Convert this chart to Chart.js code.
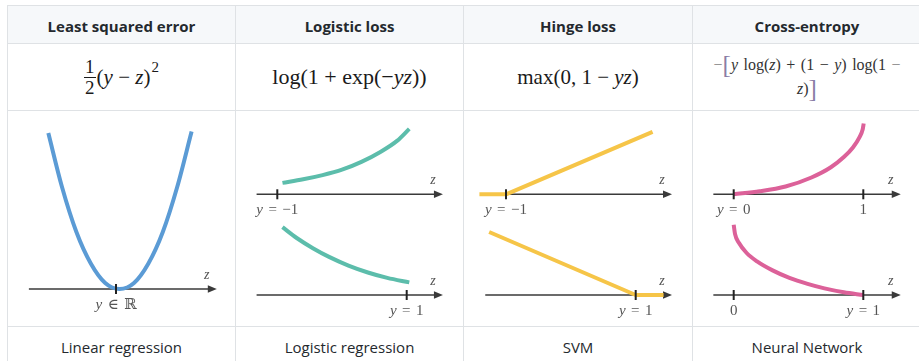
<!DOCTYPE html>
<html><head><meta charset="utf-8">
<script src="https://cdn.jsdelivr.net/npm/chart.js@4"></script>
<style>
html,body{margin:0;padding:0;background:#fff;width:919px;height:361px;overflow:hidden;}
#grid{position:absolute;left:7px;top:5px;display:grid;grid-template-columns:227px 227px 228px 228px;grid-template-rows:37px 66px 215px 40px;gap:1px;padding:1px;background:#dfe2e5;}
.c{background:#fff;display:flex;align-items:center;justify-content:center;position:relative;overflow:hidden;}
.h{background:#f6f8fa;font:700 15px "Open Sans",sans-serif;color:#24292e;padding-top:3px;box-sizing:border-box;}
.f{font:21px "Liberation Serif",serif;color:#1a1a1a;white-space:nowrap;}
.f.w{font-size:22px;}
.b{font:15px "Open Sans",sans-serif;color:#24292e;}
.i{font-style:italic;}
.frac{display:inline-flex;flex-direction:column;align-items:center;vertical-align:middle;font-size:19px;line-height:20px;margin-right:1px;}
.frac span:first-child{border-bottom:1px solid #1a1a1a;padding:0 1px;}
.sq{font-size:15px;position:relative;top:-10px;margin-left:1px;}
.ce{font-size:16px;color:#333;text-align:center;line-height:24px;white-space:normal;word-spacing:1.5px;}
.br{font-size:25px;color:#8a7da6;font-weight:300;vertical-align:-3px;}
.m{color:#888;}
canvas{position:absolute;left:0;top:0;}
</style>
</head><body>
<div id="grid">
  <div class="c h">Least squared error</div>
  <div class="c h">Logistic loss</div>
  <div class="c h">Hinge loss</div>
  <div class="c h">Cross-entropy</div>

  <div class="c f"><span class="frac"><span>1</span><span>2</span></span>(<span class="i">y</span>&nbsp;−&nbsp;<span class="i">z</span>)<span class="sq">2</span></div>
  <div class="c f w">log(1&nbsp;+&nbsp;exp(−<span class="i">yz</span>))</div>
  <div class="c f">max(0,&nbsp;1&nbsp;−&nbsp;<span class="i">yz</span>)</div>
  <div class="c f"><div class="ce"><span class="m">−</span><span class="br">[</span><span class="i">y</span> log(<span class="i">z</span>) + (1 − <span class="i">y</span>) log(1 <span class="m">−</span><br><span class="i">z</span>)<span class="br">]</span></div></div>

  <div class="c"><canvas id="lsq" width="227" height="215"></canvas></div>
  <div class="c"><canvas id="logi" width="227" height="215"></canvas></div>
  <div class="c"><canvas id="hinge" width="228" height="215"></canvas></div>
  <div class="c"><canvas id="ce" width="228" height="215"></canvas></div>

  <div class="c b">Linear regression</div>
  <div class="c b">Logistic regression</div>
  <div class="c b">SVM</div>
  <div class="c b">Neural Network</div>
</div>
<script>
// least squared error
const lsqZ    = [-0.94, -0.75, -0.55, -0.35, -0.15, 0.05, 0.25, 0.45, 0.65, 0.85, 1.05];
const lsqLoss = [ 1.04,  0.68,  0.38,  0.17,  0.04, 0.00, 0.04, 0.17, 0.38, 0.68, 1.05];
const lsqAxis = [-1.21, 1.40];
const lsqTicks = [0], lsqTickLabels = ['y ∈ ℝ'];

// logistic loss
const logTopZ    = [-0.92, -0.6, -0.3, 0.0, 0.3, 0.6, 0.85, 1.04];
const logTopLoss = [ 0.19, 0.25, 0.32, 0.41, 0.54, 0.71, 0.89, 1.09];
const logBotZ    = [-0.92, -0.7, -0.45, -0.2, 0.1, 0.4, 0.7, 1.04];
const logBotLoss = [ 1.13, 0.95,  0.78, 0.635, 0.49, 0.375, 0.285, 0.21];
const logAxis = [-1.32, 1.56];
const logTopTicks = [-1], logTopLabels = ['y = −1'];
const logBotTicks = [1],  logBotLabels = ['y = 1'];

// hinge loss
const hingeTopZ    = [-1.41, -1.0, 1.26];
const hingeTopLoss = [ 0.0,   0.0, 1.04];
const hingeBotZ    = [-1.26, 1.0, 1.43];
const hingeBotLoss = [ 1.05, 0.0, 0.0];
const hingeAxis = [-1.32, 1.56];
const hingeTopTicks = [-1], hingeTopLabels = ['y = −1'];
const hingeBotTicks = [1],  hingeBotLabels = ['y = 1'];

// cross-entropy
const ceTopZ    = [0, 0.2, 0.4, 0.6, 0.75, 0.85, 0.92, 0.97, 0.995, 1.003];
const ceTopLoss = [0, 0.05, 0.13, 0.28, 0.45, 0.62, 0.78, 0.95, 1.08, 1.18];
const ceBotZ    = [0, 0.01, 0.04, 0.10, 0.18, 0.30, 0.43, 0.57, 0.70, 0.85, 1.0];
const ceBotLoss = [1.17, 1.02, 0.87, 0.70, 0.56, 0.41, 0.285, 0.185, 0.11, 0.045, 0];
const ceAxis = [-0.157, 1.289];
const ceTopTicks = [0, 1], ceTopLabels = ['y = 0', '1'];
const ceBotTicks = [0, 1], ceBotLabels = ['0', 'y = 1'];

const axisColor = '#3a3a3a', labelColor = '#555';

function mathText(ctx, str, cx, cy, size){
  const fam = '"Liberation Serif","DejaVu Serif",serif';
  const parts = [...str].map(ch => ({ch, it:/[a-z]/.test(ch)}));
  let w = 0;
  parts.forEach(p => {
    if(p.ch === ' '){ p.w = size*0.36; }
    else { ctx.font = (p.it?'italic ':'') + size + 'px ' + fam; p.w = ctx.measureText(p.ch).width; }
    w += p.w;
  });
  let x = cx - w/2;
  ctx.fillStyle = labelColor; ctx.textBaseline = 'middle'; ctx.textAlign = 'left';
  parts.forEach(p => {
    if(p.ch !== ' '){ ctx.font = (p.it?'italic ':'') + size + 'px ' + fam; ctx.fillText(p.ch, x, cy); }
    x += p.w;
  });
}

const decor = {
  id:'decor',
  beforeDatasetsDraw(chart, args, opts){
    const ctx = chart.ctx, xs = chart.scales.x;
    (opts.axes||[]).forEach(a => {
      const ys = chart.scales[a.yID], y = ys.getPixelForValue(0);
      const x0 = xs.getPixelForValue(a.range[0]), x1 = xs.getPixelForValue(a.range[1]);
      ctx.save();
      ctx.strokeStyle = axisColor; ctx.lineWidth = 1.6;
      ctx.beginPath(); ctx.moveTo(x0, y); ctx.lineTo(x1-6, y); ctx.stroke();
      ctx.fillStyle = axisColor;
      ctx.beginPath(); ctx.moveTo(x1, y); ctx.lineTo(x1-9, y-3.8); ctx.lineTo(x1-9, y+3.8); ctx.closePath(); ctx.fill();
      ctx.restore();
    });
  },
  afterDatasetsDraw(chart, args, opts){
    const ctx = chart.ctx, xs = chart.scales.x;
    (opts.axes||[]).forEach(a => {
      const ys = chart.scales[a.yID], y = ys.getPixelForValue(0);
      const x1 = xs.getPixelForValue(a.range[1]);
      ctx.save();
      ctx.strokeStyle = '#222'; ctx.lineWidth = 2;
      a.ticks.forEach((t, i) => {
        const x = xs.getPixelForValue(t);
        ctx.beginPath(); ctx.moveTo(x, y-5); ctx.lineTo(x, y+5); ctx.stroke();
        mathText(ctx, a.labels[i], x, y+16, 15);
      });
      mathText(ctx, 'z', x1-10, y-13.5, 14);
      ctx.restore();
    });
  }
};
Chart.register(decor);

function pts(z, loss){ return z.map((v, i) => ({x:v, y:loss[i]})); }
function curve(z, loss, color, yID, straight){
  return { data:pts(z, loss), borderColor:color, borderWidth:4, yAxisID:yID, fill:false,
    cubicInterpolationMode: straight ? 'default' : 'monotone', tension:0, borderCapStyle:'butt', borderJoinStyle:'round' };
}
function lossChart(id, xr, yScales, datasets, axes){
  const scales = { x:{type:'linear', min:xr[0], max:xr[1], display:false} };
  Object.keys(yScales).forEach(k => scales[k] = {type:'linear', min:yScales[k][0], max:yScales[k][1], display:false});
  return new Chart(document.getElementById(id), {
    type:'line',
    data:{ datasets },
    options:{ responsive:false, animation:false, events:[], layout:{padding:0},
      elements:{ point:{radius:0} },
      plugins:{ legend:{display:false}, tooltip:{enabled:false}, decor:{axes} },
      scales }
  });
}

const topY = [-2.195, 1.388], botY = [-0.5167, 3.0667];

lossChart('lsq', [-1.5, 1.6528], {y:[-0.2467, 1.1867]},
  [curve(lsqZ, lsqLoss, '#5b9bd5', 'y')],
  [{yID:'y', range:lsqAxis, ticks:lsqTicks, labels:lsqTickLabels}]);

lossChart('logi', [-1.6383, 1.8702], {yT:topY, yB:botY},
  [curve(logTopZ, logTopLoss, '#5cbdab', 'yT'), curve(logBotZ, logBotLoss, '#5cbdab', 'yB')],
  [{yID:'yT', range:logAxis, ticks:logTopTicks, labels:logTopLabels},
   {yID:'yB', range:logAxis, ticks:logBotTicks, labels:logBotLabels}]);

lossChart('hinge', [-1.6477, 1.8682], {yT:topY, yB:botY},
  [curve(hingeTopZ, hingeTopLoss, '#f6c548', 'yT', true), curve(hingeBotZ, hingeBotLoss, '#f6c548', 'yB', true)],
  [{yID:'yT', range:hingeAxis, ticks:hingeTopTicks, labels:hingeTopLabels},
   {yID:'yB', range:hingeAxis, ticks:hingeBotTicks, labels:hingeBotLabels}]);

lossChart('ce', [-0.314, 1.4452], {yT:topY, yB:botY},
  [curve(ceTopZ, ceTopLoss, '#dc6199', 'yT'), curve(ceBotZ, ceBotLoss, '#dc6199', 'yB')],
  [{yID:'yT', range:ceAxis, ticks:ceTopTicks, labels:ceTopLabels},
   {yID:'yB', range:ceAxis, ticks:ceBotTicks, labels:ceBotLabels}]);
</script>
</body></html>
